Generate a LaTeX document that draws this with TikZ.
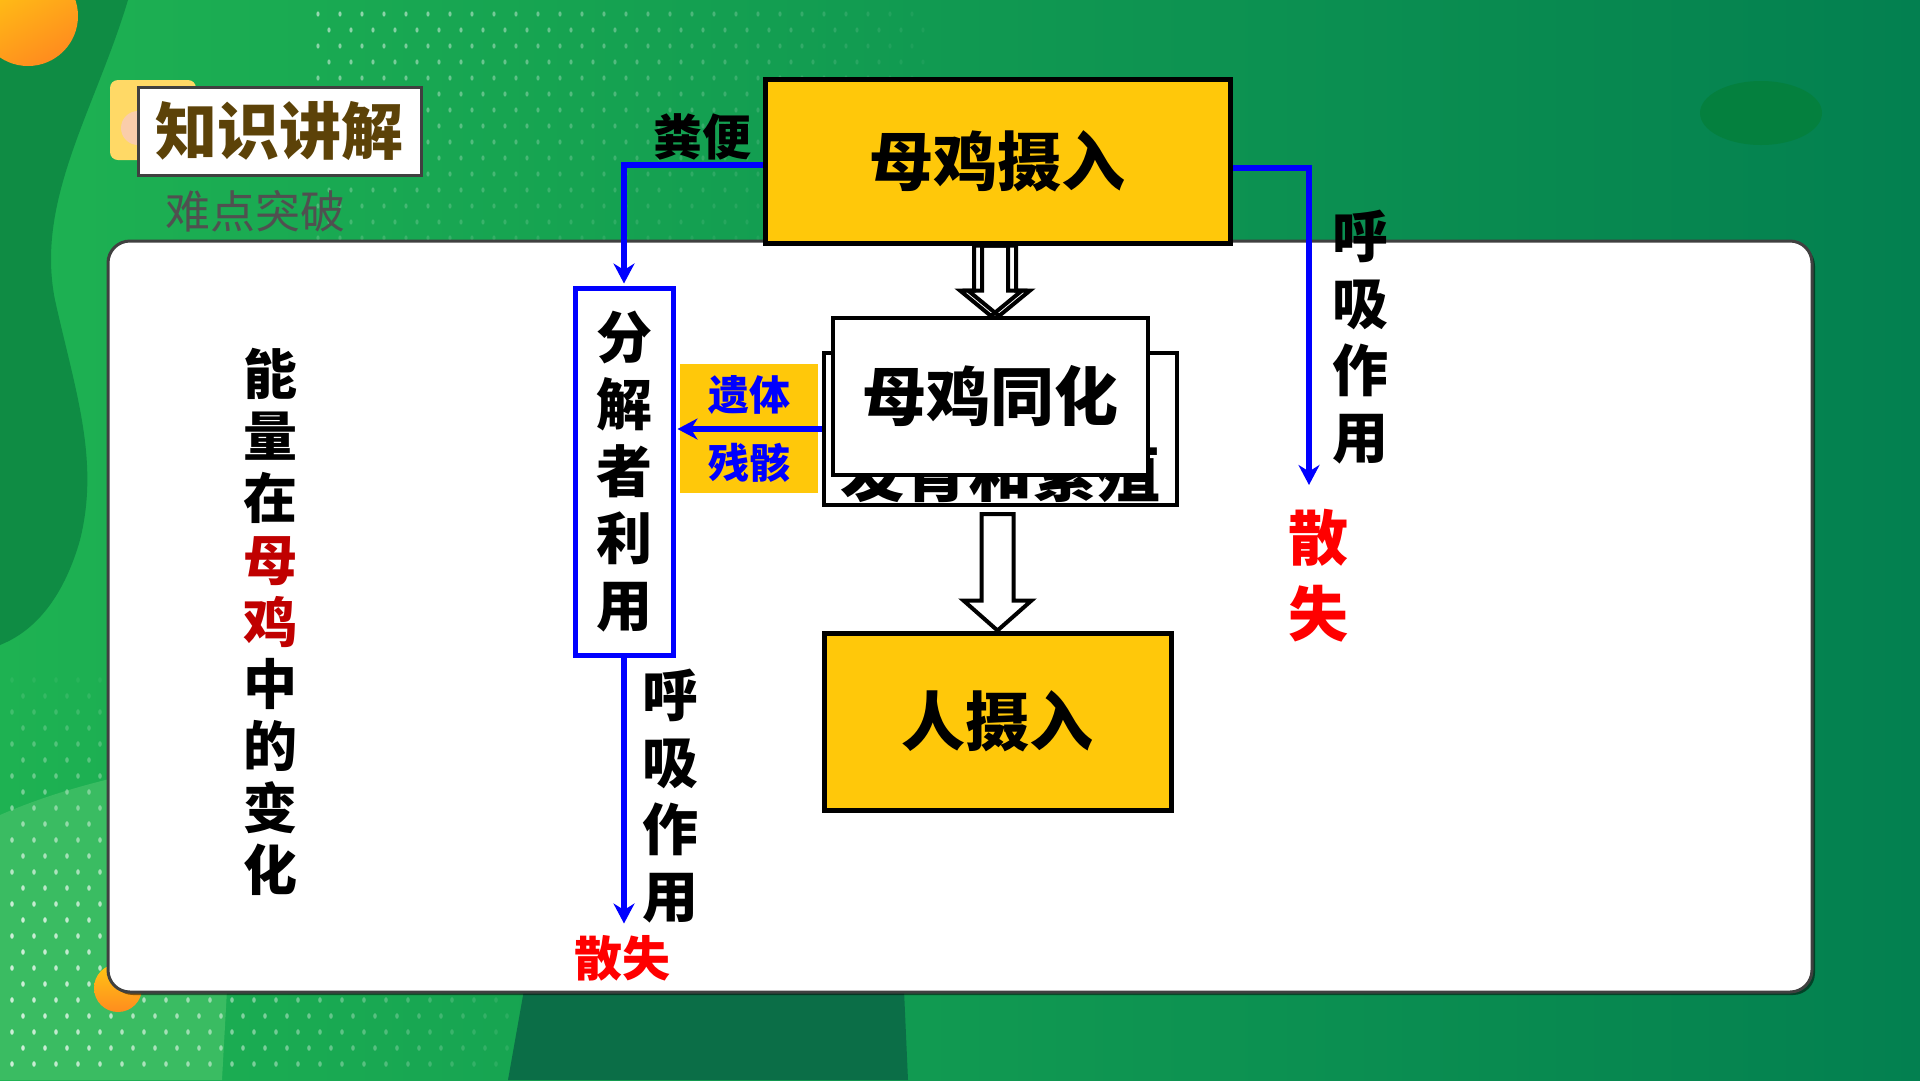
\documentclass[tikz,border=0pt]{standalone}
\usepackage{fontspec}
\setmainfont{Noto Sans CJK SC}
\usetikzlibrary{calc,arrows.meta}

\definecolor{boxyellow}{RGB}{255,200,10}
\definecolor{flowblue}{RGB}{0,0,255}
\definecolor{lostred}{RGB}{255,0,0}
\definecolor{henred}{RGB}{192,0,0}
\definecolor{titlebrown}{RGB}{92,66,8}
\definecolor{titleyellow}{RGB}{255,217,102}
\definecolor{titlepink}{RGB}{250,205,170}
\definecolor{subgray}{RGB}{80,80,80}
\definecolor{panelline}{RGB}{64,64,64}
\definecolor{bgleft}{RGB}{30,178,82}
\definecolor{bgright}{RGB}{3,128,80}
\definecolor{bgdark}{RGB}{15,140,68}
\definecolor{bglight}{RGB}{58,188,98}
\definecolor{bgband}{RGB}{11,110,71}
\definecolor{bgoval}{RGB}{4,128,62}
\definecolor{orangeA}{RGB}{255,198,20}
\definecolor{orangeB}{RGB}{255,140,30}

\newcommand{\fsz}[2]{\fontsize{#1}{#2}\selectfont\bfseries}

\tikzset{
  yellowbox/.style={draw=black, line width=5pt, fill=boxyellow, inner sep=0pt,
    font=\fsz{64}{70}},
  whitebox/.style={draw=black, line width=4pt, fill=white, inner sep=0pt,
    font=\fsz{64}{70}},
  bluebox/.style={draw=flowblue, line width=5pt, fill=white, inner sep=0pt,
    align=center, font=\fsz{56}{67}},
  flow/.style={draw=flowblue, line width=6pt, -{Stealth[length=20pt,width=21pt]},
    shorten >=2pt},
  hollow/.style={draw=black, line width=4pt, line join=miter},
  vlabel/.style={inner sep=0pt, align=center, font=\fsz{56}{67}},
  lost/.style={inner sep=0pt, align=center, text=lostred},
}

\begin{document}
\begin{tikzpicture}[x=1pt,y=-1pt]
  \useasboundingbox (0,0) rectangle (1920,1080);

  % background
  \shade[left color=bgleft, right color=bgright] (0,0) rectangle (1920,1080);
  \fill[bgdark] (0,0) -- (128,0) .. controls (95,110) and (35,200) .. (55,300)
    .. controls (75,390) and (100,460) .. (80,540)
    .. controls (60,610) and (25,635) .. (0,645) -- cycle;
  \fill[bglight] (0,815) .. controls (80,780) and (170,765) .. (240,755)
    -- (222,1080) -- (0,1080) -- cycle;
  \fill[bgband] (540,900) -- (900,900) -- (908,1080) -- (508,1080) -- cycle;
  \foreach \row in {0,...,14}
    \foreach \col in {0,...,27}{
      \pgfmathsetmacro{\dotx}{318+22*\col+11*mod(\row,2)}
      \pgfmathsetmacro{\doty}{14+16*\row}
      \pgfmathsetmacro{\dotop}{0.55*(1-\col/30)*(1-\row/20)}
      \fill[white, opacity=\dotop] (\dotx,\doty) ellipse (1.6 and 2.6);
    }
  \foreach \row in {0,...,24}
    \foreach \col in {0,...,22}{
      \pgfmathsetmacro{\dotx}{12+22*\col+11*mod(\row,2)}
      \pgfmathsetmacro{\doty}{680+16*\row}
      \pgfmathsetmacro{\dotop}{0.75*min(1,(\doty-660)/250)*(1-\col/25)}
      \fill[white, opacity=\dotop] (\dotx,\doty) ellipse (1.8 and 2.8);
    }
  \shade[top color=orangeA, bottom color=orangeB, shading angle=30] (28,16) circle (50);
  \shade[top color=orangeA, bottom color=orangeB] (118,988) circle (24);
  \fill[bgoval] (1761,113) ellipse (61 and 32);

  % panel
  \fill[black, opacity=0.5, rounded corners=22pt] (111,244) rectangle (1815,995);
  \draw[panelline, line width=3pt, fill=white, rounded corners=22pt]
    (108,241) rectangle (1812,992);

  % title
  \fill[titleyellow, rounded corners=8pt] (110,80) rectangle (196,160);
  \fill[titlepink] (138,128) circle (17);
  \node[draw=panelline, line width=3pt, fill=white, minimum width=283pt,
    minimum height=88pt, text=titlebrown, font=\fsz{62}{62}] (title)
    at (279.5,131) {知识讲解};
  \node[text=subgray, font=\fontsize{45}{45}\selectfont, inner sep=0pt] (sub)
    at (255,211) {难点突破};

  % boxes
  \node[yellowbox, minimum width=465pt, minimum height=164pt] (hen)
    at (997.5,161) {母鸡摄入};
  \node[whitebox, minimum width=353pt, minimum height=152pt] (growth)
    at (1000.5,429) {};
  \node[inner sep=0pt, anchor=south, font=\fsz{64}{70}] (growthtxt)
    at ($(growth.south)+(0,-4)$) {发育和繁殖};
  \node[whitebox, minimum width=315pt, minimum height=157pt] (assim)
    at (990.5,396.5) {母鸡同化};
  \node[yellowbox, minimum width=347pt, minimum height=177pt] (human)
    at (997.5,721.5) {人摄入};
  \node[bluebox, minimum width=98pt, minimum height=367pt] (decomp)
    at (624,471.5) {分\\解\\者\\利\\用};
  \node[fill=boxyellow, minimum width=138pt, minimum height=129pt, inner sep=0pt,
    align=center, text=flowblue, font=\fsz{41}{68}] (remains)
    at (749,428.5) {遗体\\残骸};

  % labels
  \node[inner sep=0pt, font=\fsz{49}{49}] (feces) at (702,137) {粪便};
  \node[vlabel] (resp1) at (1360,337) {呼\\吸\\作\\用};
  \node[lost, font=\fsz{60}{76}] (lost1) at (1318,576) {散\\失};
  \node[vlabel] (resp2) at (670,796) {呼\\吸\\作\\用};
  \node[lost, font=\fsz{48}{48}] (lost2) at (622,958) {散失};
  \node[vlabel, font=\fsz{54}{62}] (topic) at (270,622)
    {能\\量\\在\\\textcolor{henred}{母}\\\textcolor{henred}{鸡}\\中\\的\\变\\化};

  % energy flows
  \coordinate (rdrop) at (1309,487);
  \coordinate (ldrop) at ($(decomp.south)+(0,268)$);
  \draw[flow] ([yshift=-4pt]hen.west) -| (decomp.north);
  \draw[flow] ([yshift=-7pt]hen.east) -| (rdrop);
  \draw[flow] (growth.west) -- (growth.west -| decomp.east);
  \draw[flow] (decomp.south) -- (ldrop);

  % hollow arrows
  \foreach \dx in {-6.5,1.5}
    \draw[hollow] ($(hen.south)+(\dx-17,0)$) -- ++(0,45) -- ++(-14,0)
      -- ($(hen.south|-assim.north)+(\dx,0)$) -- ($(hen.south)+(\dx+31,45)$)
      -- ++(-14,0) -- ++(0,-45) -- cycle;
  \draw[hollow, fill=white] ($(human.north|-growth.south)+(-16,7)$)
    -- ($(human.north)+(-16,-30)$) -- ++(-18,0) -- (human.north)
    -- ($(human.north)+(34,-30)$) -- ++(-18,0)
    -- ($(human.north|-growth.south)+(16,7)$) -- cycle;
\end{tikzpicture}
\end{document}
